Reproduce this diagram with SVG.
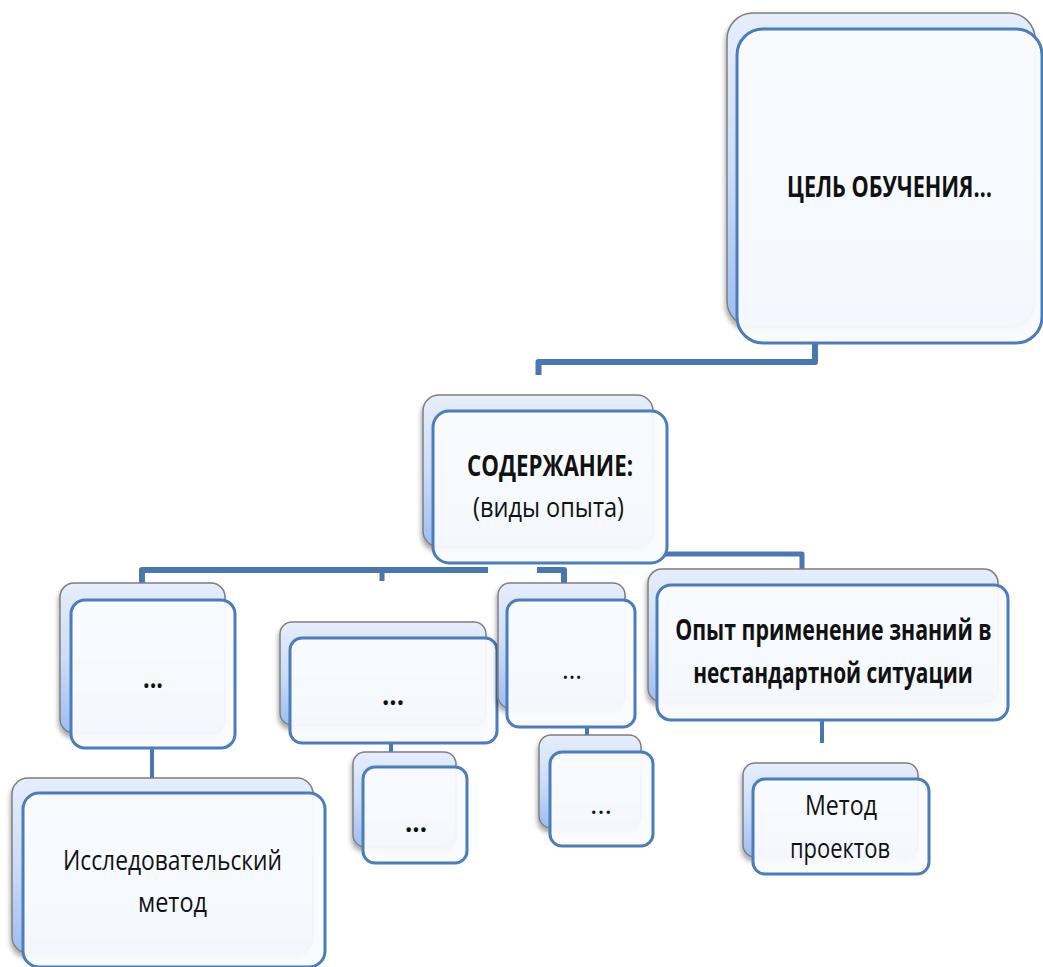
<svg xmlns="http://www.w3.org/2000/svg" width="1043" height="967" viewBox="0 0 1043 967">
  <defs>
    <linearGradient id="backFill" x1="0" y1="0" x2="0" y2="1">
      <stop offset="0" stop-color="#E6EEFB"/>
      <stop offset="0.5" stop-color="#CCDDF8"/>
      <stop offset="1" stop-color="#9DBDF1"/>
    </linearGradient>
    <filter id="shade" x="-10%" y="-10%" width="125%" height="125%">
      <feGaussianBlur in="SourceAlpha" stdDeviation="2.5"/>
      <feOffset dx="-1" dy="4" result="blur"/>
      <feComponentTransfer><feFuncA type="linear" slope="0.35"/></feComponentTransfer>
      <feMerge><feMergeNode/><feMergeNode in="SourceGraphic"/></feMerge>
    </filter>
    <style>
      .back { fill: url(#backFill); stroke: #7F7F7F; stroke-width: 1.5; filter: url(#shade); }
      .front { fill: #F9FBFE; fill-opacity: 0.95; stroke: #4A7DBA; stroke-width: 3; }
      .link { fill: none; stroke: #4A77B0; stroke-linejoin: round; }
      text { font-family: "Open Sans", "Noto Sans", "Liberation Sans", sans-serif; fill: #111; text-anchor: middle; font-size: 28px; }
      .b { font-weight: bold; }
    </style>
  </defs>

  <!-- connectors -->
  <g id="connectors">
    <path class="link" stroke-width="6" d="M815,344 V362 H538.5 V375"/>
    <path class="link" stroke-width="6" d="M142,583 V570 H488"/>
    <path class="link" stroke-width="5" d="M382,570 V581"/>
    <path class="link" stroke-width="6" d="M537,570 H564 V583"/>
    <path class="link" stroke-width="5" d="M660,554 H802 V569"/>
    <path class="link" stroke-width="4" d="M152,746 V779"/>
    <path class="link" stroke-width="4" d="M391,741 V753"/>
    <path class="link" stroke-width="4" d="M587,725 V736"/>
    <path class="link" stroke-width="4" d="M822,718 V743"/>
  </g>

  <!-- top: learning goal -->
  <g id="goal">
    <rect class="back" x="727" y="13" width="308" height="314" rx="26"/>
    <rect class="front" x="737" y="29" width="305" height="314" rx="26"/>
    <g transform="translate(889.5 0) scale(0.82 1)">
      <text class="b" x="0" y="197" textLength="250" lengthAdjust="spacingAndGlyphs">ЦЕЛЬ ОБУЧЕНИЯ…</text>
    </g>
  </g>

  <!-- content -->
  <g id="content">
    <rect class="back" x="423" y="395" width="230" height="152" rx="16"/>
    <rect class="front" x="433" y="411" width="234" height="152" rx="16"/>
    <text class="b" x="550" y="476" font-size="30" textLength="166" lengthAdjust="spacingAndGlyphs">СОДЕРЖАНИЕ:</text>
    <text x="548.5" y="517" font-size="30" textLength="151" lengthAdjust="spacingAndGlyphs">(виды опыта)</text>
  </g>

  <!-- first child -->
  <g id="child1">
    <rect class="back" x="60" y="583" width="165" height="150" rx="14"/>
    <rect class="front" x="71" y="600" width="164" height="148" rx="14"/>
    <text class="b" x="153" y="688" textLength="20" lengthAdjust="spacingAndGlyphs">...</text>
  </g>

  <!-- second child -->
  <g id="child2">
    <rect class="back" x="280" y="622" width="206" height="103" rx="12"/>
    <rect class="front" x="290" y="638" width="207" height="105" rx="12"/>
    <text class="b" x="393" y="705" textLength="22" lengthAdjust="spacingAndGlyphs">...</text>
  </g>

  <!-- third child -->
  <g id="child3">
    <rect class="back" x="498" y="583" width="127" height="125" rx="12"/>
    <rect class="front" x="507" y="600" width="128" height="127" rx="12"/>
    <text x="572" y="679" textLength="20" lengthAdjust="spacingAndGlyphs">…</text>
  </g>

  <!-- fourth child -->
  <g id="child4">
    <rect class="back" x="648" y="569" width="350" height="133" rx="14"/>
    <rect class="front" x="657" y="585" width="351" height="135" rx="14"/>
    <g transform="translate(833.5 0) scale(0.82 1)">
      <text class="b" x="0" y="640" textLength="386" lengthAdjust="spacingAndGlyphs">Опыт применение знаний в</text>
      <text class="b" x="-0.6" y="683" textLength="341" lengthAdjust="spacingAndGlyphs">нестандартной  ситуации</text>
    </g>
  </g>

  <!-- research method -->
  <g id="research">
    <rect class="back" x="12" y="778" width="301" height="175" rx="16"/>
    <rect class="front" x="23" y="793" width="302" height="174" rx="16"/>
    <text x="172.5" y="870" textLength="219" lengthAdjust="spacingAndGlyphs">Исследовательский</text>
    <text x="172.5" y="912" textLength="69" lengthAdjust="spacingAndGlyphs">метод</text>
  </g>

  <!-- under second child -->
  <g id="sub2">
    <rect class="back" x="353" y="752" width="103" height="95" rx="12"/>
    <rect class="front" x="363" y="767" width="104" height="96" rx="12"/>
    <text class="b" x="416" y="832" textLength="22" lengthAdjust="spacingAndGlyphs">...</text>
  </g>

  <!-- under third child -->
  <g id="sub3">
    <rect class="back" x="539" y="735" width="102" height="93" rx="12"/>
    <rect class="front" x="550" y="752" width="103" height="94" rx="12"/>
    <text x="601" y="814" textLength="22" lengthAdjust="spacingAndGlyphs">…</text>
  </g>

  <!-- project method -->
  <g id="projects">
    <rect class="back" x="743" y="763" width="175" height="94" rx="12"/>
    <rect class="front" x="753" y="779" width="176" height="95" rx="12"/>
    <text x="841" y="815" textLength="72" lengthAdjust="spacingAndGlyphs">Метод</text>
    <text x="840" y="858" textLength="100" lengthAdjust="spacingAndGlyphs">проектов</text>
  </g>
</svg>
